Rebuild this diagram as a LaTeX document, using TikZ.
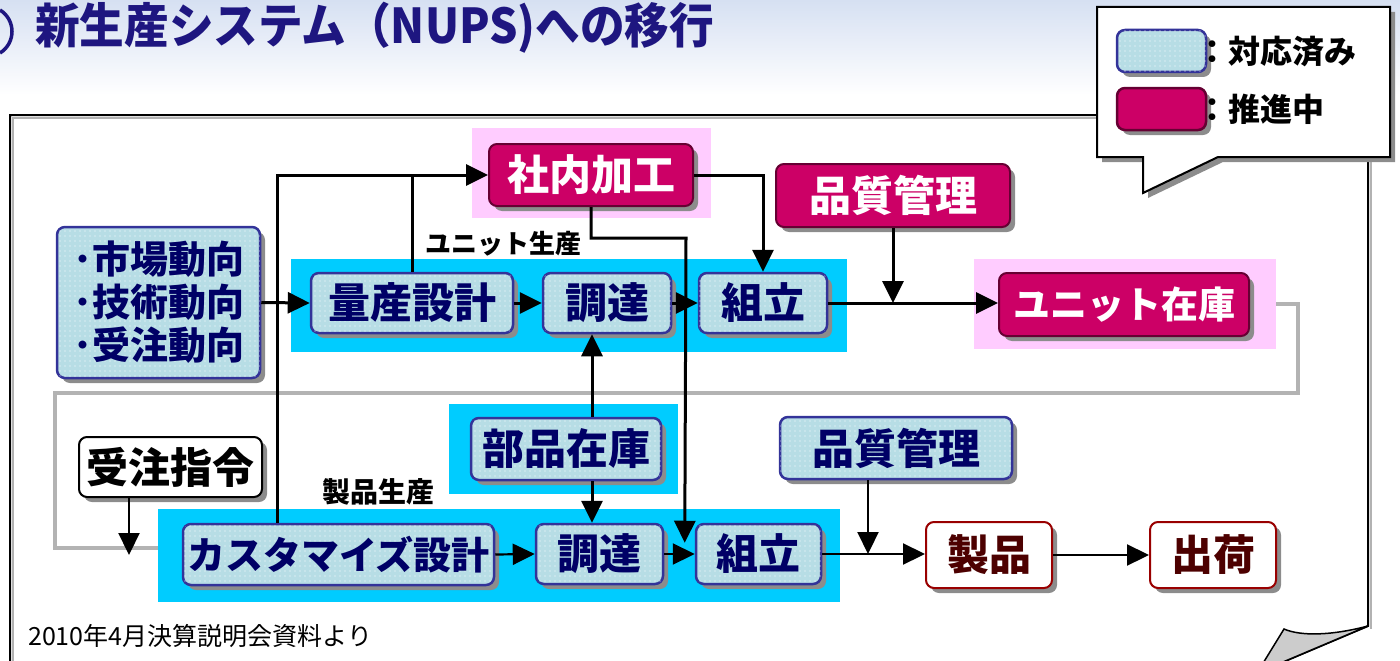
\documentclass[tikz,border=0pt]{standalone}
\usepackage{fontspec}
\setmainfont{Noto Sans CJK JP}
\usetikzlibrary{arrows.meta,shadows,patterns.meta,calc}
\definecolor{lbfill}{RGB}{183,221,229}
\definecolor{lbdraw}{RGB}{51,51,153}
\definecolor{lbtext}{RGB}{0,0,102}
\definecolor{crim}{RGB}{204,0,102}
\definecolor{crimdraw}{RGB}{102,0,51}
\definecolor{cyanbg}{RGB}{0,204,255}
\definecolor{pinkbg}{RGB}{255,204,255}
\definecolor{proddraw}{RGB}{153,0,0}
\definecolor{prodtext}{RGB}{77,0,0}
\definecolor{loopgray}{RGB}{179,179,179}
\definecolor{titlec}{RGB}{30,22,128}
\definecolor{titlebg}{RGB}{214,224,242}
\newcommand\myfs[1]{\fontsize{#1}{#1}\selectfont}
\begin{document}
\begin{tikzpicture}[x=1pt,y=-1pt,
  box/.style={rounded corners=8pt, line width=2.5pt, inner sep=0pt,
    drop shadow={shadow xshift=5pt,shadow yshift=-5pt,fill=black!45,opacity=1}},
  lbbox/.style={box, draw=lbdraw, fill=lbfill, text=lbtext, font=\bfseries\myfs{42},
    postaction={pattern={Dots[distance=5pt,radius=0.6pt]}, pattern color=white}},
  crbox/.style={box, line width=2pt, draw=crimdraw, fill=crim, text=white, font=\bfseries\myfs{42}},
  wbox/.style={box, line width=2pt, draw=proddraw, fill=white, text=prodtext, font=\bfseries\myfs{42}},
  bgrect/.style={inner sep=0pt, draw=none},
  arr/.style={line width=3pt, -{Triangle[length=22pt,width=21pt]}},
  arrthin/.style={line width=2.2pt, -{Triangle[length=22pt,width=21pt]}},
  plain/.style={line width=3pt},
  looppath/.style={line width=3.5pt, draw=loopgray},
  lbl/.style={inner sep=0pt, anchor=west, font=\bfseries\myfs{26}}
]
\useasboundingbox (0,0) rectangle (1400,661);
% title background
\shade[top color=titlebg, bottom color=white] (0,0) rectangle (1400,95);
\draw[titlec, line width=3.5pt] (0,10) .. controls (16,20) and (16,43) .. (0,53);
\node[inner sep=0pt, anchor=west, text=titlec, font=\bfseries\myfs{48}] (title) at (35,28)
  {\scalebox{0.93}[1]{新生産システム（NUPS)への移行}};
% frame
\draw[line width=2pt, draw=black!30] (13,700) -- (13,118) -- (1371,118) -- (1371,629);
\draw[line width=2pt] (10,700) -- (10,115) -- (1368,115) -- (1368,626) -- (1257,673);
\filldraw[fill=black!20, line width=1.5pt] (1284,629) .. controls (1300,636) and (1330,636) .. (1368,626) -- (1257,673) -- cycle;
% callout legend
\filldraw[fill=white, line width=2pt,
  drop shadow={shadow xshift=5pt,shadow yshift=-5pt,fill=black!45,opacity=1}]
  (1097,7) -- (1390,7) -- (1390,157) -- (1218,157) -- (1143,193) -- (1143,157) -- (1097,157) -- cycle;
\node[lbbox, minimum width=89, minimum height=42] (legA) at (1161.5,51) {};
\node[crbox, line width=2.5pt, minimum width=89, minimum height=42] (legB) at (1161.5,109) {};
\node[inner sep=0pt, anchor=west, font=\bfseries\myfs{32}] (legAt) at (1196,52) {：対応済み};
\node[inner sep=0pt, anchor=west, font=\bfseries\myfs{32}] (legBt) at (1196,109) {：推進中};
% group backgrounds
\node[bgrect, fill=cyanbg, minimum width=556, minimum height=93] (band1) at (569,305.5) {};
\node[bgrect, fill=cyanbg, minimum width=682, minimum height=93] (band2) at (499,555.5) {};
\node[bgrect, fill=cyanbg, minimum width=229, minimum height=90] (partsbg) at (563.5,449) {};
\node[bgrect, fill=pinkbg, minimum width=239, minimum height=90] (naibubg) at (591.5,173) {};
\node[bgrect, fill=pinkbg, minimum width=302, minimum height=90] (unitbg) at (1125,304) {};
% grey loop
\coordinate (g1) at (1298,393);
\coordinate (g2) at (55,548);
\draw[looppath] (unitbg.east) -| (g1) -- (g1 -| g2) -- (g2) -- (g2 -| band2.west);
% labels
\node[lbl] (lblunit) at (425,244) {ユニット生産};
\node[lbl, font=\bfseries\myfs{28}] (lblprod) at (322,492) {製品生産};
\node[inner sep=0pt, anchor=west, font=\myfs{25}] (foot) at (28,636) {2010年4月決算説明会資料より};
% boxes
\node[lbbox, minimum width=203, minimum height=151, font=\bfseries\myfs{38}, align=left] (trend) at (158.5,302.5)
  {･市場動向\\[5pt]･技術動向\\[5pt]･受注動向};
\node[lbbox, minimum width=202, minimum height=60] (design) at (412,303) {量産設計};
\node[lbbox, minimum width=128, minimum height=60] (proc1) at (607,303) {調達};
\node[lbbox, minimum width=128, minimum height=60] (asm1) at (763,303) {組立};
\node[crbox, minimum width=204, minimum height=62] (naibu) at (591,175) {社内加工};
\node[crbox, minimum width=234, minimum height=63] (qc1) at (893,195.5) {品質管理};
\node[crbox, minimum width=250, minimum height=63, font=\bfseries\myfs{37}] (unitinv) at (1124,304.5) {ユニット在庫};
\node[lbbox, minimum width=190, minimum height=62] (parts) at (566,449) {部品在庫};
\node[lbbox, minimum width=232, minimum height=62] (qc2) at (896,448) {品質管理};
\node[lbbox, minimum width=311, minimum height=61, font=\bfseries\myfs{38}] (cust) at (338.5,554.5) {カスタマイズ設計};
\node[lbbox, minimum width=127, minimum height=60] (proc2) at (599.5,554) {調達};
\node[lbbox, minimum width=125, minimum height=60] (asm2) at (758.5,554) {組立};
\node[box, line width=2pt, draw=black, fill=white, text=black, font=\bfseries\myfs{42},
  minimum width=183, minimum height=60] (order) at (170.5,467) {受注指令};
\node[wbox, minimum width=126, minimum height=66] (prod) at (989,555) {製品};
\node[wbox, minimum width=126, minimum height=66] (ship) at (1213,555) {出荷};
% connectors
\coordinate (j1) at (277,175);
\coordinate (pl) at (592,0);
\coordinate (k1) at (686,238);
\coordinate (asmtip) at ($(asm2.north west)+(-10,20)$);
\coordinate (qx) at (868,0);
\coordinate (ox) at (129,555);
\draw[arr] (trend.east) -- (design.west);
\draw[arr] (design.east) -- (proc1.west);
\draw[arr] (proc1.east) -- (asm1.west);
\draw[arr] (cust.north -| j1) -- (j1) -- (naibu.west);
\draw[plain] (design.north) -- (design.north |- naibu.west);
\draw[arr] (naibu.east) -| (asm1.north);
\draw[arr] (naibu.south) |- (k1) -- (asmtip);
\draw[arr] (asm1.east) -- (unitinv.west |- asm1.east);
\draw[arr] (qc1.south) -- (qc1.south |- asm1.east);
\draw[arr] (parts.north -| pl) -- (proc1.south -| pl);
\draw[arr] (parts.south -| pl) -- (proc2.north -| pl);
\draw[arrthin] (cust.east) -- (proc2.west);
\draw[arrthin] (proc2.east) -- (asm2.west);
\draw[arrthin] (asm2.east) -- (prod.west |- asm2.east);
\draw[arrthin] (qc2.south -| qx) -- (qx |- asm2.east);
\draw[arrthin] (prod.east) -- (ship.west);
\draw[arrthin] (order.south -| ox) -- (ox);
\end{tikzpicture}
\end{document}
